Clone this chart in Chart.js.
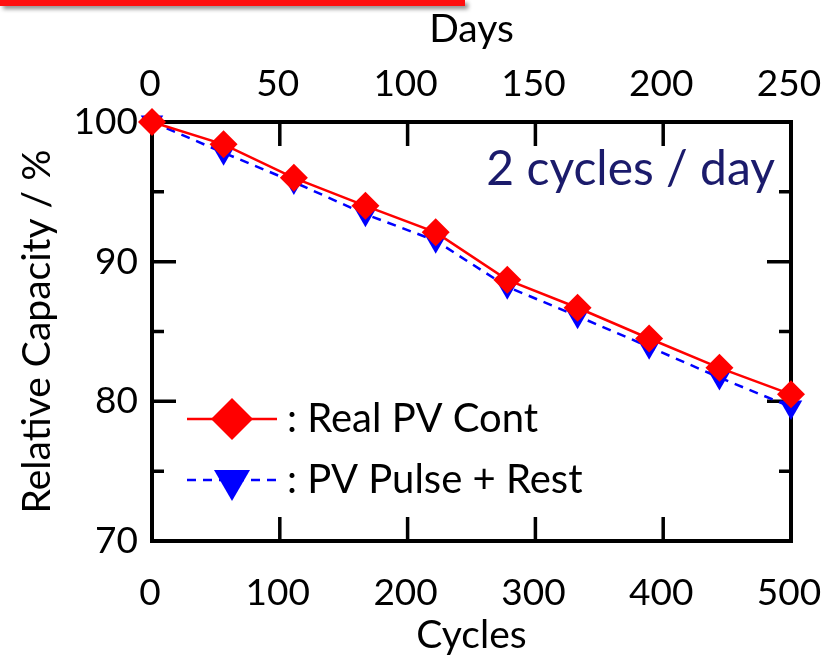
<!DOCTYPE html>
<html>
<head>
<meta charset="utf-8">
<script src="https://cdn.jsdelivr.net/npm/chart.js@4/dist/chart.umd.min.js"></script>
<style>
  html, body { margin: 0; padding: 0; background: #fff; }
  #wrap { position: relative; width: 821px; height: 659px; overflow: hidden; }
  #band { position: absolute; left: 0; top: 0; width: 465px; height: 6px; background: #ff1010; box-shadow: 3px 3px 4px rgba(0,0,0,0.45); }
</style>
</head>
<body>
<div id="wrap">
  <canvas id="capChart" width="821" height="659"></canvas>
  <div id="band"></div>
</div>
<script>
var cycles = [0, 56, 111, 167, 222, 278, 333, 389, 444, 500];
var realPV = [100, 98.4, 96.0, 94.0, 92.1, 88.7, 86.7, 84.5, 82.4, 80.5];
var pulseRest = [100, 97.8, 95.7, 93.4, 91.5, 88.2, 86.1, 83.9, 81.7, 79.6];
var cycleTicks = [0, 100, 200, 300, 400, 500];
var dayTicks = [0, 50, 100, 150, 200, 250];
var capTicks = [70, 80, 90, 100];
var legendLabels = [': Real PV Cont', ': PV Pulse + Rest'];
var noteText = '2 cycles / day';

var FONT = 'Lato, "Open Sans", sans-serif';

function toPoints(xs, ys){
	var out = [];
	for (var i in xs) out.push({x: xs[i], y: ys[i]});
	return out;
}

function noSidePad(s){
	s.paddingLeft = 0;
	s.paddingRight = 0;
}

// frame, inside ticks, note text and legend
var framePlugin = {
	id: 'framePlugin',
	beforeDatasetsDraw: function(chart){
		var ctx = chart.ctx, a = chart.chartArea;
		var x = chart.scales.x, x2 = chart.scales.x2, y = chart.scales.y;
		ctx.save();
		ctx.strokeStyle = '#000';
		ctx.lineWidth = 4;
		ctx.strokeRect(a.left, a.top, a.right - a.left, a.bottom - a.top);
		ctx.lineWidth = 3.5;
		ctx.beginPath();
		[100, 200, 300, 400].forEach(function(v){
			var px = x.getPixelForValue(v);
			ctx.moveTo(px, a.bottom); ctx.lineTo(px, a.bottom - 24);
		});
		[50, 100, 150, 200].forEach(function(v){
			var px = x2.getPixelForValue(v);
			ctx.moveTo(px, a.top); ctx.lineTo(px, a.top + 24);
		});
		[75, 80, 85, 90, 95].forEach(function(v){
			var py = y.getPixelForValue(v);
			var len = (v % 10 === 0) ? 24 : 12;
			ctx.moveTo(a.left, py); ctx.lineTo(a.left + len, py);
			ctx.moveTo(a.right, py); ctx.lineTo(a.right - len, py);
		});
		ctx.stroke();
		ctx.restore();
	},
	afterDraw: function(chart){
		var ctx = chart.ctx, a = chart.chartArea;
		ctx.save();
		ctx.fillStyle = '#1b1b6b';
		ctx.font = '48px ' + FONT;
		ctx.textAlign = 'right';
		ctx.textBaseline = 'middle';
		ctx.fillText(noteText, a.right - 16, a.top + 48);

		// legend
		var lx = 187, lx2 = 277, cx = 232;
		var rows = [419, 480];
		// red
		ctx.strokeStyle = '#ff0000'; ctx.lineWidth = 2.5; ctx.setLineDash([]);
		ctx.beginPath(); ctx.moveTo(lx, rows[0]); ctx.lineTo(lx2, rows[0]); ctx.stroke();
		ctx.fillStyle = '#ff0000';
		ctx.beginPath();
		ctx.moveTo(cx, rows[0] - 21); ctx.lineTo(cx + 21, rows[0]);
		ctx.lineTo(cx, rows[0] + 21); ctx.lineTo(cx - 21, rows[0]);
		ctx.closePath(); ctx.fill();
		// blue
		ctx.strokeStyle = '#0000ff'; ctx.setLineDash([9, 7]);
		ctx.beginPath(); ctx.moveTo(lx, rows[1]); ctx.lineTo(lx2, rows[1]); ctx.stroke();
		ctx.setLineDash([]);
		ctx.fillStyle = '#0000ff';
		ctx.beginPath();
		ctx.moveTo(cx - 18, rows[1] - 10); ctx.lineTo(cx + 18, rows[1] - 10);
		ctx.lineTo(cx, rows[1] + 21); ctx.closePath(); ctx.fill();

		ctx.fillStyle = '#000';
		ctx.font = '40px ' + FONT;
		ctx.textAlign = 'left';
		ctx.fillText(legendLabels[0], 287, rows[0]);
		ctx.fillText(legendLabels[1], 287, rows[1]);
		ctx.restore();
	}
};

var ctx = document.getElementById('capChart');
var capChart = new Chart(ctx, {
	type: 'line',
	data: {
		datasets: [
			{
				label: 'Real PV Cont',
				data: toPoints(cycles, realPV),
				borderColor: '#ff0000',
				backgroundColor: '#ff0000',
				borderWidth: 2.5,
				pointStyle: 'rectRot',
				pointRadius: 14,
				pointBorderWidth: 0,
				clip: false
			},
			{
				label: 'PV Pulse + Rest',
				data: toPoints(cycles, pulseRest),
				borderColor: '#0000ff',
				backgroundColor: '#0000ff',
				borderWidth: 2.5,
				borderDash: [9, 7],
				pointStyle: 'triangle',
				pointRotation: 180,
				pointRadius: 13,
				pointBorderWidth: 0,
				clip: false
			}
		]
	},
	options: {
		responsive: false,
		animation: false,
		layout: { padding: { right: 30 } },
		plugins: { legend: { display: false }, tooltip: { enabled: false } },
		scales: {
			x: {
				type: 'linear', position: 'bottom', min: 0, max: 500,
				afterFit: function(s){ s.height = 118; noSidePad(s); },
				afterBuildTicks: function(s){ s.ticks = cycleTicks.map(function(v){ return {value: v}; }); },
				grid: { display: false, drawTicks: false },
				border: { display: false },
				ticks: { color: '#000', font: { size: 37, family: FONT }, padding: 30, labelOffset: -2, maxRotation: 0, autoSkip: false },
				title: { display: true, text: 'Cycles', color: '#000', font: { size: 39, family: FONT }, padding: { top: 0, bottom: 0 } }
			},
			x2: {
				type: 'linear', position: 'top', min: 0, max: 250,
				afterFit: function(s){ s.height = 122; noSidePad(s); },
				afterBuildTicks: function(s){ s.ticks = dayTicks.map(function(v){ return {value: v}; }); },
				grid: { display: false, drawTicks: false },
				border: { display: false },
				ticks: { color: '#000', font: { size: 37, family: FONT }, padding: 16, labelOffset: -2, maxRotation: 0, autoSkip: false },
				title: { display: true, text: 'Days', color: '#000', font: { size: 39, family: FONT }, padding: { top: 6, bottom: 0 } }
			},
			y: {
				type: 'linear', position: 'left', min: 70, max: 100,
				afterFit: function(s){ s.width = 152; },
				afterBuildTicks: function(s){ s.ticks = capTicks.map(function(v){ return {value: v}; }); },
				grid: { display: false, drawTicks: false },
				border: { display: false },
				ticks: { color: '#000', font: { size: 37, family: FONT }, padding: 14 },
				title: { display: true, text: 'Relative Capacity / %', color: '#000', font: { size: 39, family: FONT }, padding: { top: 14, bottom: 0 } }
			}
		}
	},
	plugins: [framePlugin]
});
</script>
</body>
</html>
